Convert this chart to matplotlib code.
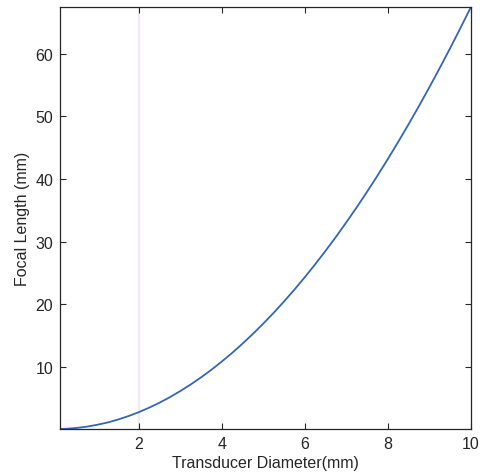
import matplotlib.pyplot as plt

# Transducer diameter (mm) and focal length (mm)
diameter = [0.1, 0.25, 0.5, 0.75, 1.0, 1.25, 1.5, 1.75, 2.0, 2.25, 2.5,
            2.75, 3.0, 3.25, 3.5, 3.75, 4.0, 4.25, 4.5, 4.75, 5.0,
            5.25, 5.5, 5.75, 6.0, 6.25, 6.5, 6.75, 7.0, 7.25, 7.5,
            7.75, 8.0, 8.25, 8.5, 8.75, 9.0, 9.25, 9.5, 9.75, 10.0]
focal_length = [0.01, 0.04, 0.17, 0.38, 0.68, 1.05, 1.52, 2.07, 2.7, 3.42, 4.22,
                5.1, 6.08, 7.13, 8.27, 9.49, 10.8, 12.19, 13.67, 15.23, 16.88,
                18.6, 20.42, 22.32, 24.3, 26.37, 28.52, 30.75, 33.08, 35.48, 37.97,
                40.54, 43.2, 45.94, 48.77, 51.68, 54.68, 57.76, 60.92, 64.17, 67.5]
x_ticks = [2, 4, 6, 8, 10]
y_ticks = [10, 20, 30, 40, 50, 60]

plt.rcParams['font.family'] = ['Liberation Sans', 'DejaVu Sans']

fig = plt.figure(figsize=(4.8, 4.77), dpi=100)
ax = fig.add_axes([0.125, 0.0985, 0.856, 0.8845])

# faint marker line left on the original figure
ax.axvline(2, color='#f3e8f3', lw=1.6, zorder=0)
ax.plot(diameter, focal_length, color='#3366b5', lw=1.3)

ax.set_xlim(diameter[0], diameter[-1])
ax.set_ylim(0, focal_length[-1])
ax.set_xticks(x_ticks)
ax.set_yticks(y_ticks)
ax.tick_params(direction='in', top=True, right=True, length=4, width=0.8,
               labelsize=11.5, colors='#262626', pad=5)
for s in ax.spines.values():
    s.set_color('#262626')
    s.set_linewidth(0.9)

t = ax.xaxis.get_major_ticks()[0]
t.tick1line.set_color('#d03030')
t.tick2line.set_color('#d03030')

ax.set_xlabel('Transducer Diameter(mm)', fontsize=11.5, color='#262626', labelpad=3)
ax.set_ylabel('Focal Length (mm)', fontsize=11.5, color='#262626', labelpad=4)

fig.savefig('out.png', dpi=100)
